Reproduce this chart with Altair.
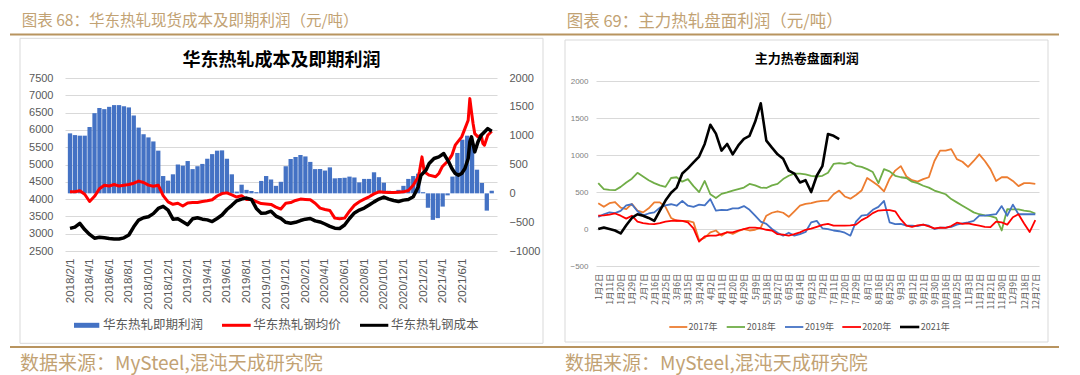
import json
import altair as alt
import pandas as pd

FONT = "Liberation Sans"
CJK = "Noto Sans CJK SC"
TAN = "#C2A273"
TAN_LINE = "#B8945F"
GRID = "#D9D9D9"
LABEL = "#595959"

# ---------------- left panel: 华东热轧现货成本及即期利润 ----------------
L_TICK_LABELS = ["2018/2/1", "2018/4/1", "2018/6/1", "2018/8/1", "2018/10/1", "2018/12/1",
                 "2019/2/1", "2019/4/1", "2019/6/1", "2019/8/1", "2019/10/1", "2019/12/1",
                 "2020/2/1", "2020/4/1", "2020/6/1", "2020/8/1", "2020/10/1", "2020/12/1",
                 "2021/2/1", "2021/4/1", "2021/6/1"]
# x position in months since 2018/2/1
L_BAR_M = [k / 2 for k in range(87)]
L_PROFIT = [1040, 1010, 1000, 1000, 1150, 1390, 1480, 1460, 1500, 1530,
            1530, 1510, 1490, 1350, 1140, 1025, 970, 900, 740, 300,
            220, 330, 500, 480, 560, 420, 470, 510, 600, 680,
            740, 745, 600, 330, 30, 150, 60, 40, 20, 215,
            300, 240, 130, 200, 470, 595, 630, 665, 640, 545,
            420, 420, 395, 450, 260, 265, 270, 290, 275, 190,
            250, 250, 365, 280, 185, 45, 30, 60, 130, 250,
            300, 340, 20, -250, -460, -430, -230, -35, 290, 700,
            930, 1000, 870, 410, 180, -300, 45]

L_PRICE_M = [k / 2 for k in range(72)] + [35.63, 35.89, 36.12, 36.62, 37.28, 37.61, 37.95, 38.61,
                                          38.94, 39.28, 39.94, 40.27, 40.6, 40.77, 40.94, 41.1,
                                          41.27, 41.6, 41.93, 42.1, 42.26, 42.6, 43.0]
L_PRICE = [4212, 4212, 4240, 4140, 3930, 4080, 4300, 4400, 4380, 4420,
           4380, 4400, 4420, 4460, 4520, 4480, 4404, 4370, 4400, 4100,
           3920, 3850, 3880, 3800, 3890, 3900, 3900, 3930, 3950, 3980,
           4090, 4160, 4180, 4120, 4060, 4100, 3990, 3990, 3930, 3870,
           3860, 3846, 3770, 3712, 3880, 3900, 3960, 4000, 3990, 3980,
           3880, 3740, 3700, 3670, 3450, 3430, 3450, 3650, 3820, 3923,
           4000, 4067, 4150, 4210, 4200, 4190, 4190, 4200, 4210, 4250,
           4400, 4640,
           4788, 5220, 4788, 4692, 4644, 4740, 4933, 5125, 5270, 5558, 5798, 6038,
           6279, 6904, 6519, 6183, 5894, 5800, 5850, 5606, 5558, 5846, 5962]

L_COST_M = [k / 2 for k in range(72)] + [35.79, 36.29, 36.62, 37.12, 37.61, 38.11, 38.61, 38.94,
                                         39.28, 39.61, 39.94, 40.27, 40.6, 40.77, 40.94, 41.27,
                                         41.6, 41.93, 42.26, 42.6, 43.0]
L_COST = [3154, 3190, 3300, 3120, 2980, 2870, 2895, 2880, 2860, 2846,
          2846, 2880, 2962, 3200, 3394, 3460, 3490, 3580, 3730, 3790,
          3683, 3420, 3430, 3346, 3260, 3430, 3460, 3420, 3400, 3350,
          3440, 3540, 3700, 3820, 3950, 4000, 4030, 3990, 3730, 3590,
          3600, 3650, 3510, 3442, 3330, 3300, 3330, 3380, 3420, 3440,
          3370, 3340, 3280, 3210, 3160, 3150, 3250, 3440, 3600, 3683,
          3740, 3827, 3920, 4000, 4060, 4000, 3960, 3930, 3970, 3990,
          4067, 4350,
          4692, 4836, 5029, 5173, 5221, 5317, 5077, 4885, 4740, 4692, 4740, 4885,
          5173, 5654, 5798, 5365, 5654, 5846, 5942, 6038, 5962]

L_LEFT_TICKS = [2500, 3000, 3500, 4000, 4500, 5000, 5500, 6000, 6500, 7000, 7500]
L_RIGHT_TICKS = [-1000, -500, 0, 500, 1000, 1500, 2000]
L_SERIES = ["华东热轧即期利润", "华东热轧钢均价", "华东热轧钢成本"]

# ---------------- right panel: 主力热卷盘面利润 ----------------
R_TICK_LABELS = ["1月2日", "1月11日", "1月20日", "1月29日", "2月7日", "2月16日", "2月25日", "3月6日",
                 "3月15日", "3月24日", "4月2日", "4月11日", "4月20日", "4月29日", "5月9日", "5月18日",
                 "5月27日", "6月5日", "6月14日", "6月23日", "7月2日", "7月11日", "7月20日", "7月29日",
                 "8月7日", "8月16日", "8月25日", "9月3日", "9月12日", "9月21日", "9月30日", "10月16日",
                 "10月25日", "11月3日", "11月12日", "11月21日", "11月30日", "12月9日", "12月18日", "12月27日"]
R_U = [k / 2 for k in range(79)]
R_2017 = [347, 300, 350, 365, 290, 270, 340, 250, 225, 280,
          360, 360, 300, 150, 110, 110, 110, 90, -150, -120,
          -45, -20, -90, -40, -65, -30, 0, -20, -10, 20,
          180, 220, 240, 220, 165, 240, 315, 340, 350, 370,
          380, 385, 470, 520, 440, 410, 460, 520, 690, 640,
          585, 510, 680, 790, 850, 710, 660, 640, 675, 700,
          920, 1060, 1060, 1080, 945, 910, 840, 920, 1010, 920,
          810, 650, 700, 700, 650, 580, 620, 620, 610]
R_2018 = [620, 540, 530, 525, 570, 630, 680, 760, 710, 660,
          620, 590, 570, 690, 700, 640, 675, 580, 500, 650,
          470, 420, 475, 495, 520, 540, 560, 610, 590, 560,
          555, 590, 610, 675, 720, 750, 750, 740, 720, 710,
          720, 760, 880, 890, 880, 900, 855, 840, 810, 770,
          620, 810, 780, 720, 700, 690, 640, 620, 585, 560,
          520, 495, 470, 405, 360, 315, 270, 225, 200, 185,
          175, 150, -20, 270, 265, 265, 250, 240, 210]
R_2019 = [165, 200, 225, 215, 245, 320, 335, 240, 185, 210,
          225, 290, 320, 335, 315, 380, 315, 300, 330, 320,
          405, 250, 260, 255, 280, 280, 310, 260, 180, 100,
          70, 0, -50, -90, -50, -90, -70, -40, 90, 110,
          10, 0, -20, -30, -50, -90, 100, 180, 190, 260,
          300, 380, 90, 65, 70, 45, 45, 40, 60, 45,
          0, 20, 20, 30, 60, 75, 90, 110, 180, 180,
          190, 200, 310, 180, 330, 200, 200, 200, 200]
R_2020 = [180, 185, 195, 210, 180, 140, 180, 100, 80, 70,
          65, 80, 100, 110, 115, 110, 90, 10, -170, -100,
          -90, -90, -70, -45, -45, -20, 0, 20, 20, 10,
          -10, -20, -70, -75, -90, -70, -45, -10, 5, 30,
          55, 70, 45, 45, 45, 50, 60, 120, 160, 215,
          250, 255, 255, 240, 130, 45, 30, 50, 60, 35,
          10, 20, 15, 40, 85, 70, 75, 60, 45, 30,
          25, 100, 90, 60, 160, 200, 75, -40, 120]
R_2021 = [0, 20, 0, -20, -60, 50, 150, 200, 180, 150,
          110, 250, 385, 490, 560, 750, 820, 900, 980, 1150,
          1410, 1290, 1060, 1150, 1010, 1130, 1220, 1260, 1450, 1700,
          1195, 1100, 1010, 950, 790, 750, 630, 660, 500, 720,
          850, 1285, 1260, 1215]
R_YEARS = ["2017年", "2018年", "2019年", "2020年", "2021年"]
R_COLORS = ["#ED7D31", "#70AD47", "#4472C4", "#FF0000", "#000000"]
R_Y_TICKS = [-500, 0, 500, 1000, 1500, 2000]

ONE = pd.DataFrame({"a": [0]})


def txt(s, x, y, size, color, font=CJK, weight="normal", align="left"):
    return alt.Chart(ONE).mark_text(text=s, align=align, baseline="middle", fontSize=size,
                                    font=font, color=color, fontWeight=weight).encode(
        x=alt.value(x), y=alt.value(y))


def hrule(x1, x2, y, color, width, opacity=1.0):
    return alt.Chart(ONE).mark_rule(color=color, strokeWidth=width, opacity=opacity).encode(
        x=alt.value(x1), x2=alt.value(x2), y=alt.value(y))


def box(x1, x2, y1, y2, color=GRID, filled=False, sw=1):
    return alt.Chart(ONE).mark_rect(filled=filled, color=color, strokeWidth=sw).encode(
        x=alt.value(x1), x2=alt.value(x2), y=alt.value(y1), y2=alt.value(y2))


# ================= LEFT PANEL =================
WL, HL = 432, 173
l_expr = json.dumps(L_TICK_LABELS, ensure_ascii=False) + "[round(datum.value / 2)]"
xL = alt.X("m:Q", scale=alt.Scale(domain=[0, 43.03], nice=False, zero=False),
           axis=alt.Axis(values=list(range(0, 41, 2)), labelExpr=l_expr, labelAngle=-90,
                         labelAlign="right", labelBaseline="middle", labelPadding=7,
                         ticks=False, domain=False, grid=False, labelFontSize=11.5,
                         labelColor=LABEL, labelFont=FONT, labelOverlap=False,
                         labelFlush=False, labelBound=False, title=None))

df_bar = pd.DataFrame({"m": L_BAR_M, "v": L_PROFIT, "z": 0})
df_price = pd.DataFrame({"m": L_PRICE_M, "v": L_PRICE})
df_cost = pd.DataFrame({"m": L_COST_M, "v": L_COST})

bars = alt.Chart(df_bar).mark_bar(size=4.3, color="#4472C4").encode(
    x=xL,
    y=alt.Y("v:Q", scale=alt.Scale(domain=[-1000, 2000], nice=False, zero=False),
            axis=alt.Axis(orient="right", values=L_RIGHT_TICKS, format="d", grid=False, ticks=False,
                          domain=False, labelPadding=12, labelAlign="left",
                          labelColor=LABEL, labelFontSize=11, labelFont=FONT, title=None)),
    y2="z:Q")

yL = alt.Y("v:Q", scale=alt.Scale(domain=[2500, 7500], nice=False, zero=False),
           axis=alt.Axis(orient="left", values=L_LEFT_TICKS, format="d", grid=True, gridColor=GRID,
                         gridWidth=1, ticks=False, domain=False, labelPadding=12,
                         labelColor=LABEL, labelFontSize=11, labelFont=FONT, title=None))
red = alt.Chart(df_price).mark_line(color="#FF0000", strokeWidth=3, strokeJoin="round").encode(x=xL, y=yL)
blk = alt.Chart(df_cost).mark_line(color="#000000", strokeWidth=3.5, strokeJoin="round").encode(x=xL, y=yL)
left_lines = alt.layer(red, blk)

oxL, oyL = 65, 77.7  # page position of the left plot origin
left_deco = [
    hrule(8 - oxL, 9 - oxL, 8 - oyL, "#FFFFFF", 1, opacity=0),  # layout anchor
    txt("图表 68：华东热轧现货成本及即期利润（元/吨）", 21.7 - oxL, 21 - oyL, 15.5, TAN),
    hrule(10 - oxL, 540 - oxL, 34.3 - oyL, TAN_LINE, 2),
    txt("华东热轧成本及即期利润", 281.5 - oxL, 60.7 - oyL, 18, "#000000", weight="bold", align="center"),
    box(74 - oxL, 99.3 - oxL, 322.5 - oyL, 327.5 - oyL, color="#4472C4", filled=True, sw=0),
    txt(L_SERIES[0], 103 - oxL, 325 - oyL, 12.5, LABEL),
    hrule(222 - oxL, 250.7 - oxL, 325 - oyL, "#FF0000", 3),
    txt(L_SERIES[1], 253.3 - oxL, 325 - oyL, 12.5, LABEL),
    hrule(360 - oxL, 388.3 - oxL, 325 - oyL, "#000000", 3),
    txt(L_SERIES[2], 391 - oxL, 325 - oyL, 12.5, LABEL),
    hrule(10 - oxL, 540 - oxL, 346.7 - oyL, TAN_LINE, 2),
    txt("数据来源：MySteel,混沌天成研究院", 20 - oxL, 364 - oyL, 19, TAN),
]
left_box = box(20 - oxL, 543 - oxL, 38 - oyL, 343 - oyL)

left = alt.layer(left_box, bars, left_lines, *left_deco).resolve_scale(y="independent").properties(
    width=WL, height=HL)

# ================= RIGHT PANEL =================
WR, HR = 443, 188
r_expr = json.dumps(R_TICK_LABELS, ensure_ascii=False) + "[round(datum.value)]"
xR = alt.X("u:Q", scale=alt.Scale(domain=[-0.2, 39.33], nice=False, zero=False),
           axis=alt.Axis(values=list(range(40)), labelExpr=r_expr, labelAngle=-90,
                         labelAlign="right", labelBaseline="middle", labelPadding=7,
                         ticks=False, domain=False, grid=False, labelFontSize=8.5,
                         labelColor=LABEL, labelFont=CJK, labelOverlap=False,
                         labelFlush=False, labelBound=False, title=None))
yR = alt.Y("v:Q", scale=alt.Scale(domain=[-500, 2042], nice=False, zero=False),
           axis=alt.Axis(values=R_Y_TICKS, format="d", grid=True, gridColor=GRID, gridWidth=1,
                         ticks=False, domain=False, labelPadding=8, labelColor="#7F7F7F",
                         labelFontSize=8, labelFont=FONT, title=None))

r_series = [R_2017, R_2018, R_2019, R_2020, R_2021]
r_layers = []
for name, vals, col in zip(R_YEARS, r_series, R_COLORS):
    d = pd.DataFrame({"u": R_U[:len(vals)], "v": vals})
    sw = 2.6 if name == "2021年" else 1.8
    r_layers.append(alt.Chart(d).mark_line(color=col, strokeWidth=sw, strokeJoin="round").encode(x=xR, y=yR))

oxR, oyR = 596, 77.7
leg_lines = [(669.3, 687.3), (726.7, 745), (785, 803.3), (842.3, 861), (900, 919.3)]
leg_text_x = [688.5, 746.7, 805, 862.3, 920.7]
right_deco = [
    txt("图表 69：主力热轧盘面利润（元/吨）", 566.7 - oxR, 21.5 - oyR, 16.5, TAN),
    hrule(540 - oxR, 1059 - oxR, 34.3 - oyR, TAN_LINE, 2),
    txt("主力热卷盘面利润", 806.7 - oxR, 58.3 - oyR, 13, "#000000", weight="bold", align="center"),
    hrule(540 - oxR, 1059 - oxR, 346.7 - oyR, TAN_LINE, 2),
    txt("数据来源：MySteel,混沌天成研究院", 565 - oxR, 364 - oyR, 19, TAN),
]
for (a, b), tx, name, col in zip(leg_lines, leg_text_x, R_YEARS, R_COLORS):
    right_deco.append(hrule(a - oxR, b - oxR, 326.7 - oyR, col, 2.6 if name == "2021年" else 1.8))
    right_deco.append(txt(name, tx - oxR, 326.7 - oyR, 9, LABEL))
right_box = box(565 - oxR, 1048 - oxR, 39.7 - oyR, 341.7 - oyR)

right = alt.layer(right_box, *r_layers, *right_deco).properties(width=WR, height=HR)

chart = alt.hconcat(left, right, spacing=oxR - oxL - WL, bounds="flush", padding=0).configure_view(
    strokeWidth=0)

chart.save("out.html", embed_options={"renderer": "svg", "actions": False})
